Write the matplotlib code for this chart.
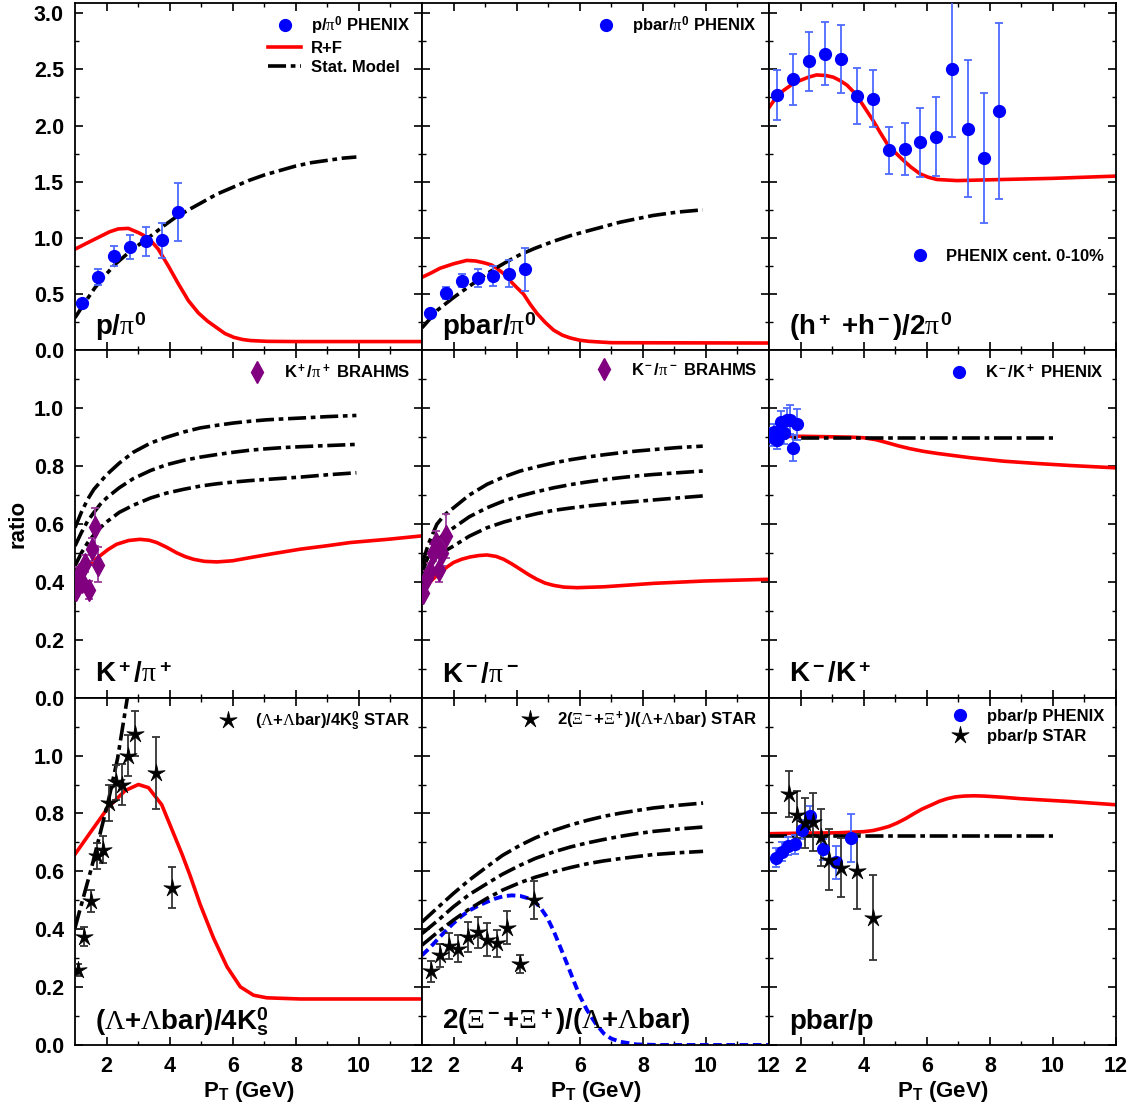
import numpy as np
import matplotlib
matplotlib.use('Agg')
import matplotlib.pyplot as plt
from matplotlib.lines import Line2D
from matplotlib.path import Path

plt.rcParams['font.family'] = ['Liberation Sans', 'DejaVu Sans']
plt.rcParams['font.weight'] = 'bold'
plt.rcParams['mathtext.fontset'] = 'custom'
plt.rcParams['mathtext.rm'] = 'Liberation Sans:bold'
plt.rcParams['mathtext.bf'] = 'Liberation Sans:bold'
plt.rcParams['mathtext.sf'] = 'Liberation Sans:bold'
plt.rcParams['mathtext.it'] = 'Liberation Serif:weight=normal'
plt.rcParams['mathtext.cal'] = 'Liberation Serif:weight=normal'

# ---- row 1: p/pi0, pbar/pi0, (h+ + h-)/2pi0 ----
p_pi_x = [1.23, 1.74, 2.24, 2.75, 3.24, 3.75, 4.25]
p_pi_y = [0.42, 0.65, 0.84, 0.92, 0.97, 0.98, 1.23]
p_pi_err = [0.03, 0.07, 0.09, 0.11, 0.13, 0.155, 0.26]
rf_p_x = [1.0, 1.42, 1.85, 2.1, 2.37, 2.69, 3.01, 3.33, 3.64, 3.96, 4.28, 4.6, 4.91, 5.2,
          5.5, 5.75, 6.03, 6.3, 6.56, 7.1, 8.0, 12.0]
rf_p_y = [0.90, 0.96, 1.02, 1.055, 1.08, 1.085, 1.047, 1.0, 0.90, 0.75, 0.59, 0.44, 0.333, 0.26,
          0.20, 0.15, 0.116, 0.097, 0.087, 0.08, 0.078, 0.078]
stat_p_x = [1.0, 1.3, 1.63, 1.95, 2.27, 2.6, 2.9, 3.22, 3.54, 3.85, 4.17, 4.6, 5.02, 5.5, 6.0,
            6.5, 7.0, 7.5, 8.0, 8.5, 9.0, 9.5, 9.92]
stat_p_y = [0.29, 0.42, 0.556, 0.665, 0.765, 0.845, 0.913, 0.98, 1.047, 1.115, 1.18, 1.25, 1.315,
            1.39, 1.45, 1.51, 1.56, 1.60, 1.64, 1.67, 1.69, 1.71, 1.72]

pbar_pi_x = [1.25, 1.75, 2.26, 2.76, 3.25, 3.76, 4.26]
pbar_pi_y = [0.33, 0.51, 0.62, 0.64, 0.66, 0.68, 0.72]
pbar_pi_err = [0.0, 0.05, 0.06, 0.08, 0.09, 0.12, 0.19]
rf_pbar_x = [1.0, 1.3, 1.57, 2.0, 2.42, 2.7, 2.95, 3.2, 3.37, 3.6, 3.79, 4.0, 4.22, 4.43, 4.64,
             4.9, 5.17, 5.45, 5.7, 6.0, 6.29, 7.0, 12.0]
rf_pbar_y = [0.65, 0.69, 0.73, 0.77, 0.80, 0.795, 0.78, 0.76, 0.73, 0.68, 0.62, 0.56, 0.50, 0.41,
             0.33, 0.25, 0.18, 0.135, 0.11, 0.09, 0.08, 0.068, 0.065]
stat_pbar_x = [1.0, 1.5, 2.0, 2.5, 3.0, 3.27, 3.7, 4.1, 4.6, 5.17, 5.7, 6.22, 6.75, 7.28, 7.8,
               8.33, 9.1, 9.9]
stat_pbar_y = [0.20, 0.36, 0.47, 0.57, 0.67, 0.72, 0.79, 0.85, 0.91, 0.97, 1.02, 1.06, 1.10, 1.14,
               1.17, 1.20, 1.23, 1.25]

h_pi_x = [1.26, 1.77, 2.28, 2.78, 3.28, 3.78, 4.29, 4.79, 5.30, 5.79, 6.29, 6.80, 7.31, 7.80, 8.30]
h_pi_y = [2.27, 2.41, 2.57, 2.64, 2.59, 2.26, 2.24, 1.78, 1.79, 1.85, 1.90, 2.50, 1.97, 1.71, 2.13]
h_pi_err = [0.22, 0.23, 0.26, 0.28, 0.30, 0.25, 0.25, 0.21, 0.23, 0.31, 0.35, 0.60, 0.61, 0.58, 0.78]
rf_h_x = [1.0, 1.2, 1.45, 1.7, 1.98, 2.25, 2.51, 2.8, 3.04, 3.25, 3.47, 3.68, 3.89, 4.1, 4.31,
          4.52, 4.74, 5.0, 5.26, 5.5, 5.79, 6.05, 6.32, 6.96, 8.43, 10.0, 12.0]
rf_h_y = [2.16, 2.24, 2.31, 2.36, 2.40, 2.43, 2.45, 2.445, 2.43, 2.40, 2.36, 2.30, 2.22, 2.13, 2.04,
          1.94, 1.84, 1.76, 1.69, 1.63, 1.57, 1.54, 1.52, 1.51, 1.52, 1.53, 1.55]

# ---- row 2: K+/pi+, K-/pi-, K-/K+ ----
kp_pi_x = [1.03, 1.13, 1.23, 1.33, 1.43, 1.54, 1.63, 1.74]
kp_pi_y = [0.372, 0.427, 0.40, 0.463, 0.372, 0.513, 0.59, 0.459]
kp_pi_err = [0.02, 0.023, 0.026, 0.03, 0.03, 0.04, 0.066, 0.06]
rf_kp_x = [1.0, 1.2, 1.37, 1.57, 1.79, 2.05, 2.32, 2.7, 3.06, 3.35, 3.59, 3.9, 4.23, 4.5, 4.76,
           5.1, 5.5, 6.0, 6.56, 7.3, 8.14, 9.0, 9.73, 11.0, 12.0]
rf_kp_y = [0.403, 0.43, 0.449, 0.47, 0.49, 0.512, 0.53, 0.543, 0.547, 0.544, 0.536, 0.52, 0.50,
           0.487, 0.478, 0.471, 0.469, 0.473, 0.484, 0.498, 0.513, 0.525, 0.536, 0.548, 0.559]
stat_kp_x = [1.0, 1.2, 1.4, 1.6, 1.8, 2.0, 2.4, 2.85, 3.4, 3.91, 4.45, 4.97, 5.5, 6.03, 6.55,
             7.08, 7.6, 8.14, 9.0, 9.92]
stat_kp_hi = [0.587, 0.64, 0.685, 0.72, 0.745, 0.77, 0.81, 0.848, 0.88, 0.90, 0.918, 0.932, 0.941,
              0.949, 0.955, 0.96, 0.963, 0.966, 0.971, 0.975]
stat_kp_mid = [0.524, 0.57, 0.61, 0.64, 0.668, 0.69, 0.725, 0.757, 0.785, 0.805, 0.82, 0.831,
               0.840, 0.848, 0.855, 0.86, 0.864, 0.867, 0.871, 0.875]
stat_kp_lo = [0.455, 0.50, 0.535, 0.563, 0.587, 0.607, 0.64, 0.665, 0.69, 0.707, 0.72, 0.731,
              0.739, 0.745, 0.75, 0.754, 0.758, 0.762, 0.77, 0.777]

km_pi_x = [1.04, 1.17, 1.25, 1.36, 1.44, 1.55, 1.64, 1.75]
km_pi_y = [0.363, 0.415, 0.438, 0.501, 0.536, 0.441, 0.501, 0.559]
km_pi_err = [0.02, 0.023, 0.026, 0.03, 0.04, 0.043, 0.046, 0.075]
rf_km_x = [1.0, 1.1, 1.3, 1.57, 1.8, 2.0, 2.25, 2.52, 2.8, 3.06, 3.35, 3.59, 3.85, 4.11, 4.38,
           4.64, 4.9, 5.17, 5.5, 5.91, 6.76, 8.35, 9.94, 12.0]
rf_km_y = [0.37, 0.38, 0.405, 0.432, 0.452, 0.467, 0.478, 0.486, 0.491, 0.493, 0.488, 0.478,
           0.462, 0.444, 0.425, 0.409, 0.396, 0.388, 0.382, 0.380, 0.383, 0.395, 0.403, 0.409]
stat_km_x = [1.0, 1.2, 1.47, 1.7, 2.0, 2.5, 3.06, 3.6, 4.11, 4.65, 5.17, 5.7, 6.22, 6.75, 7.28,
             7.8, 8.33, 9.1, 9.9]
stat_km_hi = [0.46, 0.53, 0.599, 0.63, 0.656, 0.70, 0.737, 0.763, 0.783, 0.798, 0.811, 0.822,
              0.831, 0.839, 0.846, 0.852, 0.857, 0.864, 0.869]
stat_km_mid = [0.43, 0.49, 0.541, 0.566, 0.587, 0.625, 0.656, 0.68, 0.697, 0.712, 0.725, 0.736,
               0.745, 0.753, 0.76, 0.766, 0.771, 0.777, 0.783]
stat_km_lo = [0.395, 0.445, 0.484, 0.505, 0.524, 0.558, 0.587, 0.607, 0.622, 0.636, 0.647, 0.655,
              0.662, 0.668, 0.673, 0.678, 0.683, 0.69, 0.697]

kk_x = [1.08, 1.16, 1.26, 1.37, 1.48, 1.56, 1.67, 1.77, 1.88]
kk_y = [0.90, 0.917, 0.889, 0.952, 0.915, 0.961, 0.961, 0.861, 0.944]
kk_err = [0.03, 0.03, 0.03, 0.037, 0.037, 0.04, 0.05, 0.045, 0.053]
rf_kk_x = [1.0, 2.09, 3.15, 3.6, 4.0, 4.4, 4.74, 5.1, 5.48, 5.9, 6.32, 7.38, 8.44, 9.5, 10.56, 12.0]
rf_kk_y = [0.903, 0.903, 0.901, 0.90, 0.898, 0.891, 0.881, 0.870, 0.860, 0.851, 0.844, 0.829,
           0.817, 0.809, 0.802, 0.794]
stat_kk_x = [1.0, 10.0]
stat_kk_y = [0.898, 0.898]

# ---- row 3: Lambda/K0s, Xi/Lambda, pbar/p ----
lam_x = [1.08, 1.29, 1.50, 1.69, 1.90, 2.09, 2.29, 2.48, 2.69, 2.90, 3.57, 4.09]
lam_y = [0.259, 0.374, 0.497, 0.653, 0.675, 0.837, 0.908, 0.90, 1.0, 1.075, 0.939, 0.544]
lam_err = [0.022, 0.032, 0.038, 0.045, 0.047, 0.062, 0.061, 0.07, 0.071, 0.078, 0.124, 0.071]
rf_lam_x = [1.0, 1.53, 2.06, 2.59, 3.01, 3.33, 3.75, 4.07, 4.39, 4.65, 4.97, 5.39, 5.82, 6.24,
            6.66, 7.08, 8.14, 12.0]
rf_lam_y = [0.659, 0.741, 0.822, 0.879, 0.90, 0.889, 0.83, 0.745, 0.66, 0.585, 0.485, 0.37, 0.27,
            0.201, 0.172, 0.163, 0.159, 0.159]
stat_lam_x = [1.0, 1.53, 2.06, 2.35, 2.66]
stat_lam_y = [0.405, 0.615, 0.845, 0.99, 1.20]

xi_x = [1.28, 1.57, 1.86, 2.15, 2.45, 2.76, 3.06, 3.37, 3.71, 4.11, 4.54]
xi_y = [0.255, 0.310, 0.341, 0.333, 0.374, 0.389, 0.364, 0.351, 0.405, 0.279, 0.50]
xi_err = [0.036, 0.04, 0.045, 0.047, 0.052, 0.054, 0.057, 0.047, 0.057, 0.031, 0.066]
rf_xi_x = [1.0, 1.25, 1.47, 1.73, 1.99, 2.25, 2.52, 2.8, 3.05, 3.3, 3.58, 3.85, 4.11, 4.33, 4.53,
           4.75, 4.96, 5.17, 5.38, 5.6, 5.80, 6.0, 6.23, 6.5, 6.76, 7.0, 7.29, 7.8, 8.5, 12.0]
rf_xi_y = [0.310, 0.336, 0.362, 0.392, 0.42, 0.445, 0.466, 0.482, 0.494, 0.505, 0.514, 0.517,
           0.515, 0.508, 0.50, 0.475, 0.442, 0.395, 0.339, 0.28, 0.224, 0.17, 0.121, 0.075, 0.040,
           0.022, 0.011, 0.002, 0.0, 0.0]
stat_xi_x = [1.0, 1.5, 1.99, 2.5, 3.05, 3.55, 4.11, 4.6, 5.17, 5.7, 6.23, 6.76, 7.29, 7.8, 8.34,
             9.1, 9.91]
stat_xi_hi = [0.425, 0.475, 0.523, 0.57, 0.615, 0.655, 0.69, 0.716, 0.741, 0.76, 0.776, 0.79,
              0.801, 0.81, 0.819, 0.828, 0.836]
stat_xi_mid = [0.385, 0.43, 0.477, 0.52, 0.557, 0.59, 0.621, 0.645, 0.667, 0.684, 0.698, 0.71,
               0.721, 0.73, 0.738, 0.746, 0.753]
stat_xi_lo = [0.345, 0.39, 0.431, 0.47, 0.506, 0.535, 0.561, 0.58, 0.598, 0.613, 0.626, 0.636,
              0.644, 0.651, 0.658, 0.664, 0.669]

pp_phenix_x = [1.22, 1.42, 1.61, 1.83, 2.04, 2.30, 2.70, 3.13, 3.59]
pp_phenix_y = [0.647, 0.667, 0.687, 0.693, 0.744, 0.792, 0.676, 0.631, 0.715]
pp_phenix_err = [0.032, 0.033, 0.03, 0.032, 0.033, 0.033, 0.036, 0.056, 0.082]
pp_star_x = [1.64, 1.90, 2.14, 2.39, 2.64, 2.90, 3.28, 3.78, 4.31]
pp_star_y = [0.868, 0.796, 0.767, 0.770, 0.718, 0.640, 0.613, 0.60, 0.44]
pp_star_err = [0.079, 0.08, 0.085, 0.099, 0.098, 0.105, 0.103, 0.13, 0.146]
rf_pp_x = [1.0, 2.09, 3.15, 4.0, 4.3, 4.53, 4.8, 5.06, 5.33, 5.59, 5.85, 6.12, 6.4, 6.65, 6.9,
           7.18, 7.5, 7.82, 8.4, 8.98, 10.56, 12.0]
rf_pp_y = [0.730, 0.732, 0.733, 0.737, 0.741, 0.747, 0.755, 0.767, 0.782, 0.799, 0.815, 0.828,
           0.842, 0.851, 0.857, 0.860, 0.861, 0.860, 0.856, 0.851, 0.841, 0.830]
stat_pp_x = [1.0, 10.0]
stat_pp_y = [0.722, 0.722]

LAM = r'$\mathcal{\Lambda}$'
labels = [r'p/$\pi^0$', r'pbar/$\pi^0$', r'(h$^+$ +h$^-$)/2$\pi^0$',
          r'K$^+$/$\pi^+$', r'K$^-$/$\pi^-$', r'K$^-$/K$^+$',
          '(' + LAM + '+' + LAM + r'bar)/4K$^0_\mathrm{s}$',
          r'2($\mathcal{\Xi}^-$+$\mathcal{\Xi}^+$)/(' + LAM + '+' + LAM + 'bar)',
          'pbar/p']

RED = '#ff0000'
BLUE = '#0000ff'
BLUE_ERR = '#4d6bff'
PURPLE = '#800080'
PURPLE_ERR = '#9b3c9b'
STAT_DASH = (5, 1.3, 1.3, 1.3)

# thin five-pointed star marker
ang = np.pi / 2 + np.arange(10) * np.pi / 5
rad = np.where(np.arange(10) % 2 == 0, 1.0, 0.3)
STAR = Path(np.column_stack([rad * np.cos(ang), rad * np.sin(ang)]).tolist() + [[0, 1]],
            closed=True)

fig = plt.figure(figsize=(11.38, 11.05), dpi=100)
gs = fig.add_gridspec(3, 3, left=75/1138, right=1116/1138, top=1-3/1105, bottom=1-1045/1105,
                      hspace=0, wspace=0)
axs = [[fig.add_subplot(gs[r, c]) for c in range(3)] for r in range(3)]


def stat(ax, x, y):
    ax.plot(x, y, color='black', lw=2.6, dashes=STAT_DASH)


def red(ax, x, y):
    ax.plot(x, y, color=RED, lw=2.6)


def dots(ax, x, y, e):
    ax.errorbar(x, y, yerr=e, fmt='o', color=BLUE, ecolor=BLUE_ERR, ms=8.5, elinewidth=1.3,
                capsize=3, capthick=1.3, zorder=5)


def diamonds(ax, x, y, e):
    ax.errorbar(x, y, yerr=e, fmt='d', color=PURPLE, ecolor=PURPLE_ERR, ms=11, elinewidth=1.3,
                capsize=3, capthick=1.3, zorder=5)


def stars(ax, x, y, e):
    ax.errorbar(x, y, yerr=e, fmt='none', ecolor='#333333', elinewidth=1.3, capsize=3,
                capthick=1.3, zorder=5)
    ax.plot(x, y, ls='none', marker=STAR, color='black', ms=13, mew=0.6, zorder=6)


h_dot = Line2D([], [], marker='o', ls='none', color=BLUE, ms=8.5)
h_dia = Line2D([], [], marker='d', ls='none', color=PURPLE, ms=11)
h_star = Line2D([], [], marker=STAR, ls='none', color='black', ms=13, mew=0.6)
h_red = Line2D([], [], color=RED, lw=2.6)
h_stat = Line2D([], [], color='black', lw=2.6, dashes=STAT_DASH)

# row 1
ax = axs[0][0]
dots(ax, p_pi_x, p_pi_y, p_pi_err)
red(ax, rf_p_x, rf_p_y)
stat(ax, stat_p_x, stat_p_y)

ax = axs[0][1]
dots(ax, pbar_pi_x, pbar_pi_y, pbar_pi_err)
red(ax, rf_pbar_x, rf_pbar_y)
stat(ax, stat_pbar_x, stat_pbar_y)

ax = axs[0][2]
dots(ax, h_pi_x, h_pi_y, h_pi_err)
red(ax, rf_h_x, rf_h_y)

# row 2
ax = axs[1][0]
diamonds(ax, kp_pi_x, kp_pi_y, kp_pi_err)
red(ax, rf_kp_x, rf_kp_y)
for s in (stat_kp_hi, stat_kp_mid, stat_kp_lo):
    stat(ax, stat_kp_x, s)

ax = axs[1][1]
diamonds(ax, km_pi_x, km_pi_y, km_pi_err)
red(ax, rf_km_x, rf_km_y)
for s in (stat_km_hi, stat_km_mid, stat_km_lo):
    stat(ax, stat_km_x, s)

ax = axs[1][2]
dots(ax, kk_x, kk_y, kk_err)
red(ax, rf_kk_x, rf_kk_y)
stat(ax, stat_kk_x, stat_kk_y)

# row 3
ax = axs[2][0]
stars(ax, lam_x, lam_y, lam_err)
red(ax, rf_lam_x, rf_lam_y)
stat(ax, stat_lam_x, stat_lam_y)

ax = axs[2][1]
stars(ax, xi_x, xi_y, xi_err)
ax.plot(rf_xi_x, rf_xi_y, color=BLUE, lw=2.8, dashes=(2.2, 1.2))
for s in (stat_xi_hi, stat_xi_mid, stat_xi_lo):
    stat(ax, stat_xi_x, s)

ax = axs[2][2]
dots(ax, pp_phenix_x, pp_phenix_y, pp_phenix_err)
stars(ax, pp_star_x, pp_star_y, pp_star_err)
red(ax, rf_pp_x, rf_pp_y)
stat(ax, stat_pp_x, stat_pp_y)

# axes cosmetics
for r in range(3):
    for c in range(3):
        ax = axs[r][c]
        ax.set_xlim(1, 12)
        if r == 0:
            ax.set_ylim(0, 3.09)
            ax.set_yticks([0, 0.5, 1.0, 1.5, 2.0, 2.5, 3.0])
            ax.set_yticks([0.25, 0.75, 1.25, 1.75, 2.25, 2.75], minor=True)
        else:
            ax.set_ylim(0, 1.2)
            ax.set_yticks([0, 0.2, 0.4, 0.6, 0.8, 1.0])
            ax.set_yticks([0.1, 0.3, 0.5, 0.7, 0.9, 1.1], minor=True)
        ax.set_xticks([2, 4, 6, 8, 10, 12])
        ax.set_xticks([3, 5, 7, 9, 11], minor=True)
        ax.yaxis.set_major_formatter(matplotlib.ticker.FormatStrFormatter('%.1f'))
        ax.tick_params(which='both', direction='in', top=True, right=True, labelsize=15.5, pad=8)
        ax.tick_params(which='major', length=6, width=1.2)
        ax.tick_params(which='minor', length=3, width=1.0)
        for sp in ax.spines.values():
            sp.set_linewidth(1.3)
        if c > 0:
            ax.tick_params(labelleft=False)
        if r < 2:
            ax.tick_params(labelbottom=False)
        else:
            ax.set_xlabel(r'P$_\mathrm{T}$ (GeV)', fontsize=16, fontweight='bold', labelpad=1)
        ax.text(0.057, 0.045, labels[3 * r + c], transform=ax.transAxes, fontsize=20,
                fontweight='bold', ha='left', va='baseline')

leg_kw = dict(frameon=False, fontsize=12, handlelength=2.0, handletextpad=0.6,
              borderaxespad=0.3, labelspacing=0.25)
axs[0][0].legend([h_dot, h_red, h_stat], [r'p/$\pi^0$ PHENIX', 'R+F', 'Stat. Model'],
                 loc='upper right', **leg_kw)
axs[0][1].legend([h_dot], [r'pbar/$\pi^0$ PHENIX'], loc='upper right', **leg_kw)
axs[0][2].legend([h_dot], ['PHENIX cent. 0-10%'], loc='center right',
                 bbox_to_anchor=(1.0, 0.27), **leg_kw)
axs[1][0].legend([h_dia], [r'K$^+$/$\pi^+$ BRAHMS'], loc='upper right', **leg_kw)
axs[1][1].legend([h_dia], [r'K$^-$/$\pi^-$ BRAHMS'], loc='upper right', **leg_kw)
axs[1][2].legend([h_dot], [r'K$^-$/K$^+$ PHENIX'], loc='upper right', **leg_kw)
axs[2][0].legend([h_star], ['(' + LAM + '+' + LAM + r'bar)/4K$^0_\mathrm{s}$ STAR'],
                 loc='upper right', **leg_kw)
axs[2][1].legend([h_star], [r'2($\mathcal{\Xi}^-$+$\mathcal{\Xi}^+$)/(' + LAM + '+' + LAM + 'bar) STAR'],
                 loc='upper right', **leg_kw)
axs[2][2].legend([h_dot, h_star], ['pbar/p PHENIX', 'pbar/p STAR'], loc='upper right', **leg_kw)

fig.text(0.016, 1 - 524 / 1105, 'ratio', rotation=90, fontsize=16, fontweight='bold',
         ha='center', va='center')

fig.savefig('out.png', dpi=100)
